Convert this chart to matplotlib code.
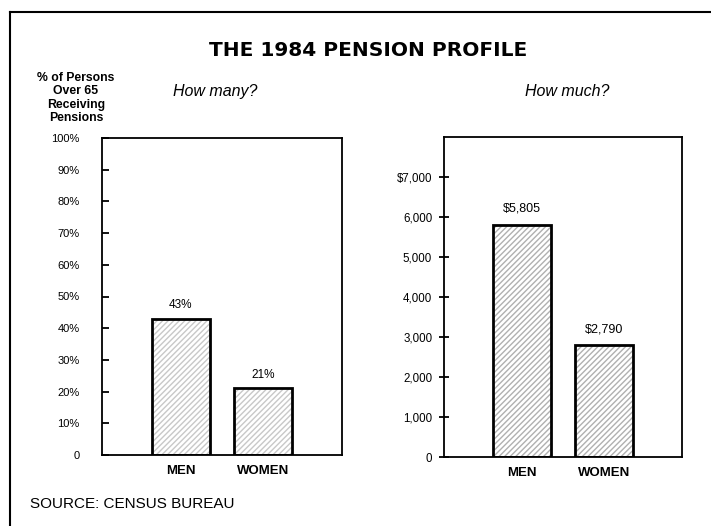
import matplotlib
matplotlib.use("Agg")
import matplotlib.pyplot as plt
from matplotlib.lines import Line2D

plt.rcParams["font.family"] = ["Liberation Sans", "DejaVu Sans"]

# data
groups = ["MEN", "WOMEN"]
pct_receiving = [43, 21]
pct_labels = ["43%", "21%"]
avg_pension = [5805, 2790]
pension_labels = ["$5,805", "$2,790"]
pct_ticks = list(range(0, 101, 10))
pct_ticklabels = ["0"] + [f"{v}%" for v in pct_ticks[1:]]
usd_ticks = list(range(0, 7001, 1000))
usd_ticklabels = ["0", "1,000", "2,000", "3,000", "4,000", "5,000", "6,000", "$7,000"]

W, H = 711, 526
fig = plt.figure(figsize=(W / 100, H / 100), dpi=100)
fig.patch.set_facecolor("white")


def frac(x0, y0, x1, y1):
    # pixel box -> figure fraction [left, bottom, width, height]
    return [x0 / W, 1 - y1 / H, (x1 - x0) / W, (y1 - y0) / H]


def draw_bars(ax, values, hatch_col):
    xs = range(len(values))
    ax.bar(xs, values, width=0.71, color="white", edgecolor=hatch_col,
           hatch="//////", linewidth=0, zorder=2)
    ax.bar(xs, values, width=0.71, fill=False, edgecolor="black",
           linewidth=2, zorder=3)
    ax.set_xticks(list(xs))
    ax.set_xticklabels(groups, fontsize=9.5, fontweight="bold")
    ax.tick_params(axis="x", length=0, pad=7)
    ax.set_xlim(-0.96, 1.96)
    for s in ax.spines.values():
        s.set_linewidth(1.3)


# ── left panel: how many ──
ax1 = fig.add_axes(frac(102, 138, 342, 455))
draw_bars(ax1, pct_receiving, "#c8c8c8")
ax1.set_ylim(0, 100)
ax1.set_yticks(pct_ticks)
ax1.set_yticklabels(pct_ticklabels, fontsize=8)
ax1.tick_params(axis="y", direction="in", length=5, width=1.3, pad=16)
for i, (v, lab) in enumerate(zip(pct_receiving, pct_labels)):
    ax1.text(i, v + 2.5, lab, ha="center", va="bottom", fontsize=8.5)

# ── right panel: how much ──
ax2 = fig.add_axes(frac(444, 137, 682, 457))
draw_bars(ax2, avg_pension, "#b0b0b0")
ax2.set_ylim(0, 8000)
ax2.set_yticks(usd_ticks)
ax2.set_yticklabels(usd_ticklabels, fontsize=8.3)
ax2.tick_params(axis="y", direction="inout", length=7, width=1.3, pad=5)
for i, (v, lab) in enumerate(zip(avg_pension, pension_labels)):
    ax2.text(i, v + 250, lab, ha="center", va="bottom", fontsize=9)

# ── titles and notes ──
fig.text(368 / W, 1 - 50 / H, "THE 1984 PENSION PROFILE", ha="center",
         va="center", fontsize=14.5, fontweight="bold",
         family=["DejaVu Sans"])
fig.text(215 / W, 1 - 92 / H, "How many?", ha="center", va="center",
         fontsize=11.5, style="italic")
fig.text(567 / W, 1 - 92 / H, "How much?", ha="center", va="center",
         fontsize=11.5, style="italic")
fig.text(76 / W, 1 - 98 / H, "% of Persons\nOver 65\nReceiving\nPensions",
         ha="center", va="center", fontsize=8.8, fontweight="bold",
         linespacing=1.15)
fig.text(30 / W, 1 - 504 / H, "SOURCE: CENSUS BUREAU", ha="left",
         va="center", fontsize=11)

# outer frame (left and top rules)
fig.add_artist(Line2D([10 / W, 10 / W], [0, 1 - 12 / H], color="black",
                      linewidth=1.5, transform=fig.transFigure))
fig.add_artist(Line2D([10 / W, 1], [1 - 12 / H, 1 - 12 / H], color="black",
                      linewidth=1.5, transform=fig.transFigure))

fig.savefig("out.png", dpi=100, facecolor="white")
